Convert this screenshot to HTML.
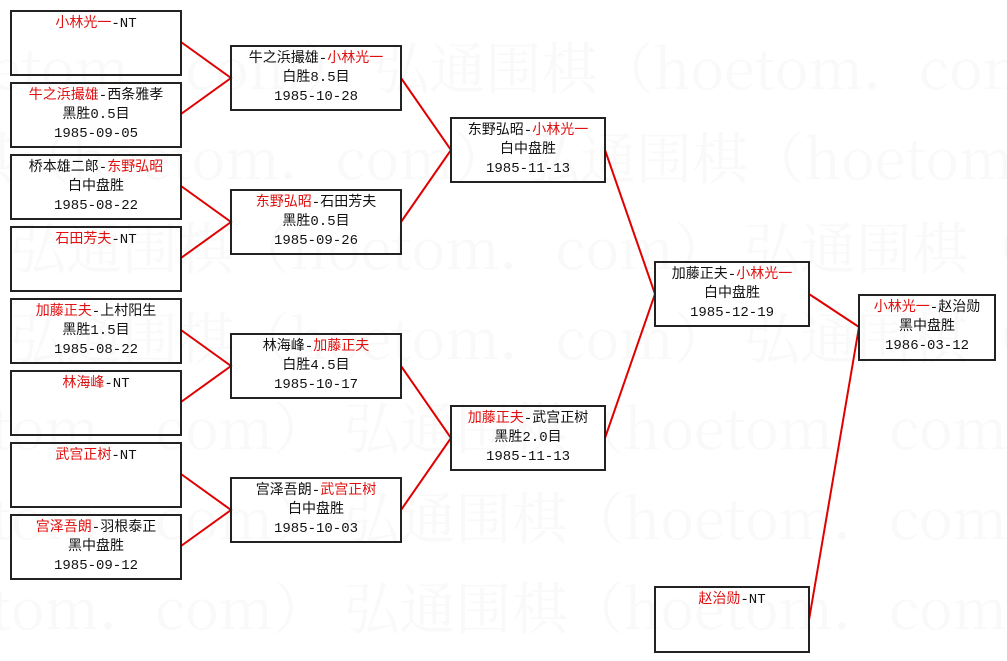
<!DOCTYPE html>
<html><head><meta charset="utf-8"><style>
html,body{margin:0;width:1007px;height:661px;overflow:hidden;}
body{background:#fff;position:relative;font-family:"Liberation Mono","Noto Sans CJK SC","WenQuanYi Zen Hei",monospace;}
#wmw{position:absolute;left:0;top:0;width:1007px;height:661px;overflow:hidden;}
.wm{position:absolute;white-space:nowrap;font-size:56px;line-height:56px;color:#f9f9f9;font-family:"Noto Serif CJK SC","Noto Sans CJK SC",serif;}
.b{position:absolute;box-sizing:border-box;border:2px solid #222;text-align:center;font-size:14px;line-height:19px;padding-top:3px;color:#111;}
.b span.r{color:#e01010;}
svg{position:absolute;left:0;top:0;}
</style></head><body>
<div id="wmw">
<div class="wm" style="top:38px;left:-10px">etom．com） 弘通围棋（hoetom．com）</div>
<div class="wm" style="top:128px;left:-210px">弘通围棋（hoetom．com） 弘通围棋（hoetom．com）</div>
<div class="wm" style="top:218px;left:10px">弘通围棋（hoetom．com） 弘通围棋（hoe</div>
<div class="wm" style="top:308px;left:10px">弘通围棋（hoetom．com） 弘通围棋（hoe</div>
<div class="wm" style="top:398px;left:-40px">etom．com） 弘通围棋（hoetom．com）</div>
<div class="wm" style="top:488px;left:-40px">etom．com） 弘通围棋（hoetom．com）</div>
<div class="wm" style="top:578px;left:-40px">etom．com） 弘通围棋（hoetom．com）</div>
</div>
<svg width="1007" height="661">
<g stroke="#e00000" stroke-width="2" fill="none">
<polyline points="181,42 231,78 181,114"/>
<polyline points="181,186 231,222 181,258"/>
<polyline points="181,330 231,366 181,402"/>
<polyline points="181,474 231,510 181,546"/>
<polyline points="401,78 451,150 401,222"/>
<polyline points="401,366 451,438 401,510"/>
<polyline points="605,150 655,294 605,438"/>
<polyline points="809,294 859,327 809,620"/>
</g></svg>
<div class="b" style="left:10px;top:10px;width:172px;height:66px"><span class="r">小林光一</span>-NT</div>
<div class="b" style="left:10px;top:82px;width:172px;height:66px"><span class="r">牛之浜撮雄</span>-西条雅孝<br>黑胜0.5目<br>1985-09-05</div>
<div class="b" style="left:10px;top:154px;width:172px;height:66px">桥本雄二郎-<span class="r">东野弘昭</span><br>白中盘胜<br>1985-08-22</div>
<div class="b" style="left:10px;top:226px;width:172px;height:66px"><span class="r">石田芳夫</span>-NT</div>
<div class="b" style="left:10px;top:298px;width:172px;height:66px"><span class="r">加藤正夫</span>-上村阳生<br>黑胜1.5目<br>1985-08-22</div>
<div class="b" style="left:10px;top:370px;width:172px;height:66px"><span class="r">林海峰</span>-NT</div>
<div class="b" style="left:10px;top:442px;width:172px;height:66px"><span class="r">武宫正树</span>-NT</div>
<div class="b" style="left:10px;top:514px;width:172px;height:66px"><span class="r">宫泽吾朗</span>-羽根泰正<br>黑中盘胜<br>1985-09-12</div>
<div class="b" style="left:230px;top:45px;width:172px;height:66px">牛之浜撮雄-<span class="r">小林光一</span><br>白胜8.5目<br>1985-10-28</div>
<div class="b" style="left:230px;top:189px;width:172px;height:66px"><span class="r">东野弘昭</span>-石田芳夫<br>黑胜0.5目<br>1985-09-26</div>
<div class="b" style="left:230px;top:333px;width:172px;height:66px">林海峰-<span class="r">加藤正夫</span><br>白胜4.5目<br>1985-10-17</div>
<div class="b" style="left:230px;top:477px;width:172px;height:66px">宫泽吾朗-<span class="r">武宫正树</span><br>白中盘胜<br>1985-10-03</div>
<div class="b" style="left:450px;top:117px;width:156px;height:66px">东野弘昭-<span class="r">小林光一</span><br>白中盘胜<br>1985-11-13</div>
<div class="b" style="left:450px;top:405px;width:156px;height:66px"><span class="r">加藤正夫</span>-武宫正树<br>黑胜2.0目<br>1985-11-13</div>
<div class="b" style="left:654px;top:261px;width:156px;height:66px">加藤正夫-<span class="r">小林光一</span><br>白中盘胜<br>1985-12-19</div>
<div class="b" style="left:858px;top:294px;width:138px;height:67px"><span class="r">小林光一</span>-赵治勋<br>黑中盘胜<br>1986-03-12</div>
<div class="b" style="left:654px;top:586px;width:156px;height:67px"><span class="r">赵治勋</span>-NT</div>
</body></html>
